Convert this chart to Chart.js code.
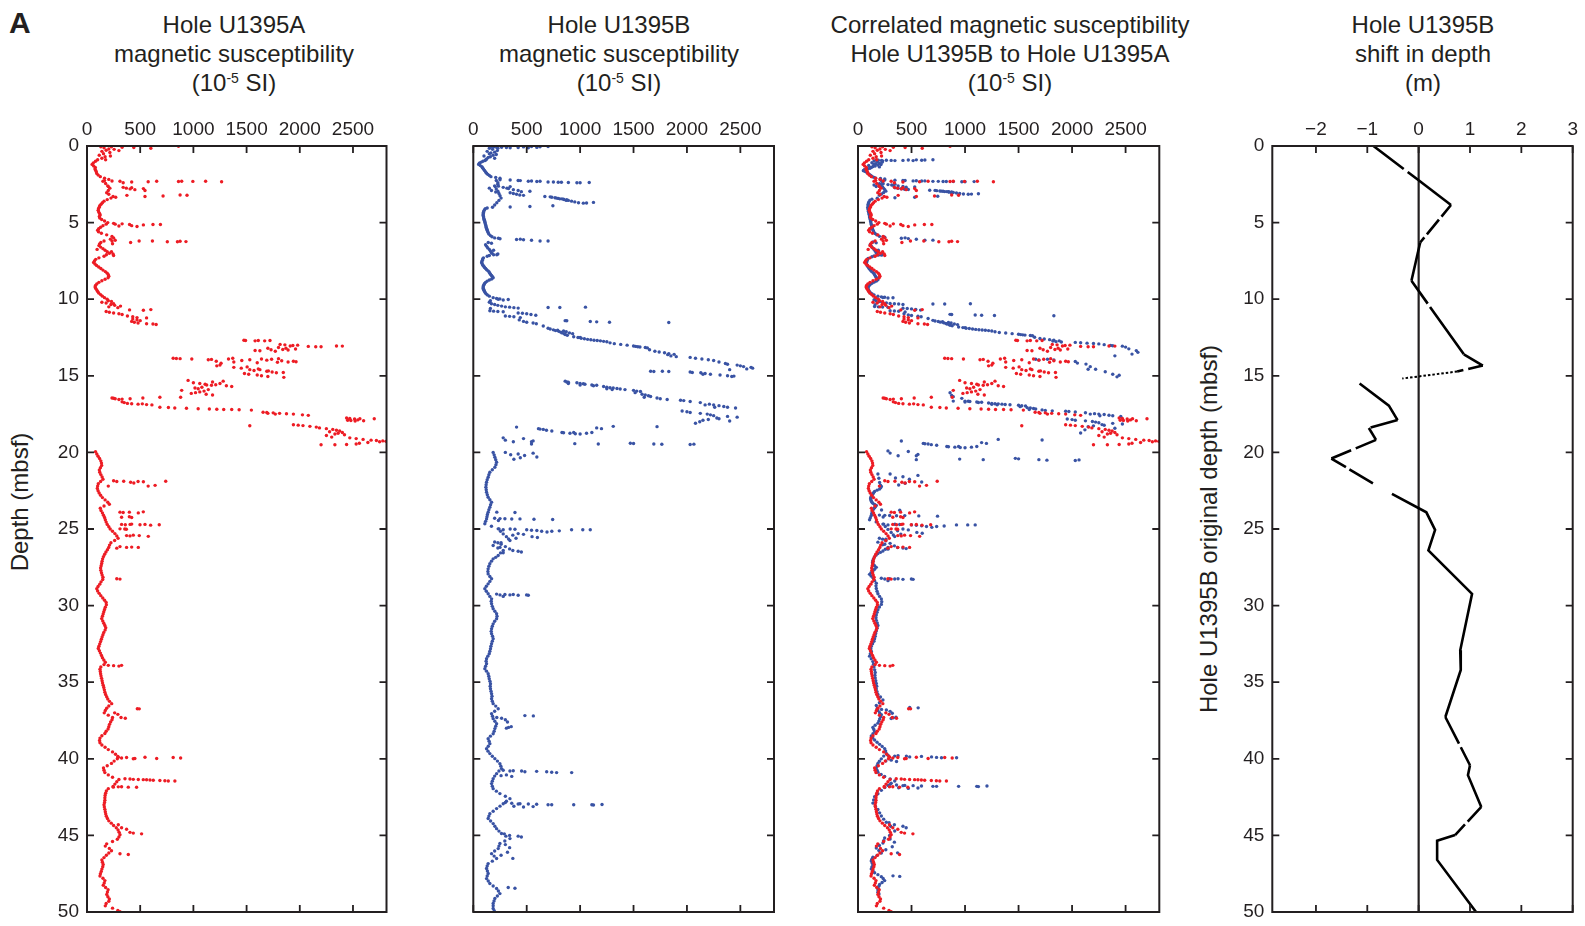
<!DOCTYPE html>
<html>
<head>
<meta charset="utf-8">
<title>Hole U1395 magnetic susceptibility</title>
<script src="https://cdn.jsdelivr.net/npm/chart.js@4.4.1/dist/chart.umd.min.js"></script>
<style>
  body { margin: 0; width: 1585px; height: 926px; position: relative; overflow: hidden; background: #fff;
         font-family: "Liberation Sans", Arial, sans-serif; color: #231f20; }
  canvas { position: absolute; left: 0; top: 0; }
  .letter { position: absolute; left: 9px; top: 8px; font-size: 30px; line-height: 30px; font-weight: bold; }
  .head { position: absolute; top: 9.5px; font-size: 24px; line-height: 29px; text-align: center; white-space: nowrap; transform: translateX(-50%); }
  .head sup { font-size: 14px; line-height: 0; vertical-align: 0; position: relative; top: -8px; }
  .ytitle { position: absolute; font-size: 24px; line-height: 24px; white-space: nowrap; transform: translate(-50%, -50%) rotate(-90deg); }
</style>
</head>
<body>
<div class="letter">A</div>
<div class="head" style="left:234px">Hole U1395A<br>magnetic susceptibility<br>(10<sup>-5</sup> SI)</div>
<div class="head" style="left:619px">Hole U1395B<br>magnetic susceptibility<br>(10<sup>-5</sup> SI)</div>
<div class="head" style="left:1010px">Correlated magnetic susceptibility<br>Hole U1395B to Hole U1395A<br>(10<sup>-5</sup> SI)</div>
<div class="head" style="left:1423px">Hole U1395B<br>shift in depth<br>(m)</div>
<div class="ytitle" style="left:20px;top:502px">Depth (mbsf)</div>
<div class="ytitle" style="left:1209px;top:529px">Hole U1395B original depth (mbsf)</div>
<script>
// [depth (mbsf), susceptibility (10^-5 SI)]
const holeAUpper = [
  [0.02,860],[0.05,130],[0.05,230],[0.08,330],[0.1,440],[0.12,160],[0.15,600],[0.2,205],[0.22,255],[0.28,180],[0.3,300],[0.35,140],[0.42,215],[0.5,155],[0.6,115],[0.65,220],[0.7,170],[0.8,140],[0.9,100],[0.9,175],[1.0,80],[1.1,60],[1.2,48],[1.3,62],[1.4,78],[1.5,75],[1.6,82],[1.7,88],[1.8,92],[1.9,105],[2.0,125],[2.1,165],[2.18,205],
  [2.26,165],[2.28,235],[2.3,310],[2.33,575],[2.3,655],[2.32,860],[2.3,890],[2.31,995],[2.3,1115],[2.33,1265],[2.35,420],[2.4,340],
  [2.3,150],[2.45,175],[2.6,195],[2.65,200],[2.7,340],[2.72,420],[2.75,215],[2.75,370],[2.78,530],[2.8,405],[2.85,450],[2.9,200],[2.9,545],[3.05,185],[3.15,205],[3.2,875],[3.21,940],[3.22,375],[3.26,715],[3.3,245],[3.3,545],[3.35,270],[3.4,225],[3.5,190],[3.6,160],[3.7,145],[3.8,132],[3.9,120],[4.0,115],[4.1,108],[4.2,105],[4.3,110],[4.4,118],[4.5,124],[4.6,116],[4.7,120],[4.8,138],[4.9,165],[5.0,195],
  [5.05,250],[5.08,330],[5.1,265],[5.12,400],[5.12,620],[5.12,690],[5.15,530],[5.2,420],[5.22,300],[5.25,470],
  [5.1,180],[5.2,150],[5.3,128],[5.4,110],[5.5,100],[5.6,108],[5.7,135],[5.8,185],[5.9,235],[6.0,250],[6.08,220],
  [6.15,265],[6.2,235],[6.2,490],[6.2,615],[6.22,875],[6.24,930],[6.25,755],[6.25,850],[6.3,410],[6.38,240],
  [6.2,160],[6.3,130],[6.4,118],[6.5,112],[6.6,128],[6.7,150],[6.75,95],[6.8,170],[6.9,190],[6.9,230],[7.0,210],[7.05,245],[7.1,182],[7.15,250],[7.2,160],[7.3,112],[7.4,82],[7.5,70],[7.6,62],[7.7,75],[7.8,90],[7.9,110],[8.0,130],[8.1,150],[8.2,172],[8.3,190],[8.4,200],[8.5,205],[8.6,198],[8.7,170],[8.8,140],[8.9,112],[9.0,92],[9.1,80],[9.2,76],[9.3,82],[9.4,92],[9.5,100],[9.6,110],[9.7,128],[9.8,145],[9.9,165],[10.0,190],
  [10.1,200],[10.15,230],[10.2,140],[10.25,180],[10.3,250],[10.35,225],[10.4,260],[10.45,315],[10.5,205],[10.55,290],[10.7,400],[10.72,530],[10.68,600],[10.8,180],[10.85,210],[10.9,250],[10.95,300],[11.0,330],[11.1,380],[11.15,430],[11.2,470],[11.22,560],[11.3,430],[11.35,470],[11.4,500],[11.45,420],[11.5,445],[11.55,480],[11.6,560],[11.62,620],[11.65,650]
];

const holeAPeak = [
  [12.68,1475],[12.7,1490],[12.72,1580],[12.7,1610],[12.72,1670],[12.7,1720],
  [12.95,1815],[12.98,1860],[13.0,1980],[13.05,1910],[13.02,1935],[13.08,2080],[13.1,2150],[13.1,2200],[13.05,2345],[13.06,2400],
  [13.15,1800],[13.2,1870],[13.25,1960],[13.3,1730],[13.35,1580],[13.36,1625],[13.28,1840],[13.32,1890],[13.2,1700],[13.4,1770],
  [13.85,810],[13.87,840],[13.88,875],[13.9,985],[13.95,1140],[13.93,1170],[14.05,1215],[13.9,1330],[13.85,1370],[14.0,1455],
  [13.95,1530],[13.9,1640],[13.98,1690],[13.92,1735],[13.88,1800],[14.02,1830],[14.1,1890],[14.05,1940],[14.08,1965],[14.12,1790],[14.15,1600],[14.1,1380],[14.18,1260],
  [14.3,1250],[14.35,1220],[14.45,1380],[14.5,1450],[14.42,1505],[14.6,1530],[14.55,1610],[14.6,1625],[14.7,1690],[14.68,1705],[14.75,1740],[14.8,1780],[14.78,1845],[14.65,1570],[14.9,1520],[14.95,1600],[15.0,1640],[14.85,1480],[15.05,1700],[15.1,1850],
  [15.3,950],[15.45,1000],[15.5,1060],[15.55,1110],[15.6,1125],[15.62,1170],[15.58,1210],[15.5,1250],[15.65,1310],[15.7,1360],[15.8,1015],[15.85,1045],[15.95,890],[15.75,1080],[15.9,1140],[16.0,1100],[16.05,1060],[16.1,1020],[16.15,980],[16.2,1120],[16.25,1180],[15.4,1180],[15.35,1280],
  [16.45,235],[16.47,250],[16.5,265],[16.55,300],[16.52,330],[16.5,405],[16.45,525],[16.4,685],[16.4,880],[16.7,330],[16.75,350],[16.8,380],[16.82,420],[16.85,480],[16.83,520],[16.88,560],[16.9,610],
  [17.05,685],[17.07,765],[17.1,825],[17.12,935],[17.15,1045],[17.17,1150],[17.18,1220],[17.2,1285],[17.2,1360],[17.22,1430],[17.24,1545],
  [17.38,1655],[17.4,1690],[17.42,1750],[17.45,1810],[17.48,1875],[17.5,1940],[17.55,2025],[17.58,2080],[17.45,1700],[17.5,1770],[18.26,1530],
  [17.75,2440],[17.78,2470],[17.82,2515],[17.8,2565],[17.8,2700],[17.9,2450],[17.92,2480],[17.95,2520],[17.93,2600],[17.88,2545],
  [18.2,1940],[18.22,1985],[18.25,2030],[18.3,2095],[18.35,2155],[18.4,2185],[18.45,2250],[18.5,2310],[18.55,2345],[18.6,2375],[18.7,2400],[18.75,2360],[18.8,2330],[18.65,2280],[18.9,2250],[19.0,2300],
  [19.1,2530],[19.15,2595],[19.2,2670],[19.22,2720],[19.25,2780],[19.28,2810],[19.3,2750],[19.35,2640],[19.5,2200],[19.5,2330],[19.48,2440],[19.45,2530],[19.4,2560],[19.05,2470],[18.85,2420]
];

const holeALower = [
  [19.95,80],[20.1,92],[20.25,104],[20.4,118],[20.55,130],[20.7,136],[20.85,138],[21.0,126],[21.15,116],[21.3,120],[21.45,130],[21.6,142],[21.75,150],[21.9,128],[22.05,106],[22.2,100],[22.35,97],[22.5,104],[22.65,114],[22.8,128],[22.95,145],[23.1,170],[23.25,195],[23.38,210],[23.5,160],[23.65,125],[23.8,132],[23.95,145],[24.1,155],[24.25,165],[24.4,172],[24.55,180],[24.7,190],[24.85,205],[25.0,218],[25.15,240],[25.3,262],[25.45,280],[25.6,292],[25.75,260],[25.9,225],[26.05,212],[26.2,204],[26.35,192],[26.5,178],[26.65,166],[26.8,155],[26.95,147],[27.1,142],[27.25,138],[27.4,133],[27.55,128],[27.7,130],[27.85,136],[28.0,142],[28.15,150],[28.3,148],[28.45,132],[28.6,120],[28.75,104],[28.9,92],[29.05,100],[29.2,114],[29.35,130],[29.5,148],[29.65,165],[29.8,180],[29.95,182],
  [30.1,172],[30.25,165],[30.4,158],[30.55,152],[30.7,145],[30.85,138],[31.0,148],[31.15,158],[31.3,168],[31.45,176],[31.6,170],[31.75,158],[31.9,150],[32.05,142],[32.2,135],[32.35,128],[32.5,120],[32.65,112],[32.8,106],[32.95,116],[33.1,126],[33.25,136],[33.4,145],[33.55,158],[33.7,172],[33.85,160],[34.0,130],[34.15,122],[34.3,125],[34.45,128],[34.6,132],[34.75,137],[34.9,142],[35.05,146],[35.2,152],[35.35,158],[35.5,163],[35.65,168],[35.8,175],[35.95,185],[36.1,195],[36.25,212],[36.4,232],[36.55,205],[36.7,185],[36.85,172],[37.0,162],[37.15,200],[37.3,240],[37.45,235],[37.6,222],[37.75,212],[37.9,205],[38.05,198],[38.2,180],[38.35,168],[38.5,140],[38.65,122],[38.8,118],[38.95,122],[39.1,140],[39.25,170],[39.4,200],[39.55,240],[39.7,268],[39.85,290],
  [40.0,285],[40.15,255],[40.3,230],[40.45,190],[40.6,155],[40.75,160],[40.9,168],[41.05,200],[41.2,240],[41.35,300],[41.5,280],[41.65,262],[41.8,245],[41.95,200],[42.1,182],[42.25,175],[42.4,170],[42.55,168],[42.7,168],[42.85,165],[43.0,160],[43.15,163],[43.3,168],[43.45,172],[43.6,176],[43.75,182],[43.9,192],[44.05,205],[44.2,228],[44.35,250],[44.5,275],[44.65,292],[44.8,302],[44.95,310],[45.1,300],[45.25,285],[45.4,240],[45.55,185],[45.7,172],[45.85,210],[46.0,230],[46.15,205],[46.3,182],[46.45,160],[46.6,140],[46.75,145],[46.9,152],[47.05,148],[47.2,140],[47.35,134],[47.5,126],[47.65,122],[47.8,150],[47.95,168],[48.1,162],[48.25,153],[48.4,175],[48.55,198],[48.7,192],[48.85,186],[49.0,196],[49.15,210],[49.3,205],[49.45,180],[49.6,172],[49.75,240],[49.9,290],[49.98,310],
  [21.85,250],[21.9,280],[21.88,345],[21.95,410],[22.0,440],[21.9,480],[21.92,530],[22.2,575],[22.15,640],[21.88,740],[22.2,200],
  [23.9,310],[23.92,340],[23.9,398],[23.95,482],[23.88,529],[24.23,325],[24.2,398],[24.25,420],[24.7,325],[24.72,360],[24.7,405],[24.68,420],[24.72,498],[24.7,545],[24.75,598],[24.72,679],[24.99,310],[25.0,355],[25.02,370],[25.43,372],[25.45,404],[25.4,435],[25.43,491],[25.48,576],[26.15,310],[26.2,372],[26.18,420],[26.2,482],[26.25,280],
  [28.25,280],[28.27,310],
  [33.9,200],[33.92,250],[33.95,300],[33.9,325],
  [36.73,473],[36.74,491],[37.0,260],[37.1,290],[37.3,320],[37.35,360],
  [39.9,294],[39.95,325],[39.92,372],[40.0,435],[39.98,450],[39.9,545],[39.98,655],[39.92,810],[39.95,880],
  [41.3,357],[41.32,404],[41.34,435],[41.35,482],[41.36,529],[41.37,560],[41.38,592],[41.4,623],[41.42,685],[41.43,732],[41.45,764],[41.45,826],
  [41.85,247],[41.83,294],[41.82,325],[41.85,388],[41.86,466],
  [44.3,294],[44.5,325],[44.6,372],[44.8,404],[44.85,435],[44.9,513],
  [46.2,310],[46.25,388]
];

const holeBUpper = [
  [0.03,700],[0.04,545],[0.05,170],[0.05,625],[0.06,470],[0.07,190],[0.08,265],[0.09,595],[0.1,220],[0.1,310],[0.1,420],[0.12,345],[0.12,515],[0.15,230],
  [0.15,150],[0.22,180],[0.3,225],[0.35,130],[0.4,200],[0.45,165],[0.5,150],[0.55,215],[0.6,185],[0.65,100],[0.7,160],[0.75,140],[0.8,200],[0.85,125],[0.9,118],[0.95,110],[1.0,90],[1.05,75],[1.1,60],[1.15,55],[1.2,50],[1.28,65],[1.35,80],[1.42,86],[1.5,95],[1.6,105],[1.7,115],[1.78,125],[1.85,135],[1.92,150],[2.0,165],[2.05,210],[2.1,250],
  [2.2,250],[2.22,345],[2.25,420],[2.26,440],[2.28,545],[2.3,515],[2.3,625],[2.32,595],[2.35,700],[2.35,750],[2.37,795],[2.37,825],[2.38,890],[2.38,1085],[2.4,970],[2.4,1000],
  [2.25,215],[2.4,230],[2.5,230],[2.6,200],[2.62,235],[2.65,205],[2.65,345],[2.7,280],[2.75,150],[2.75,315],[2.78,330],[2.8,215],[2.85,375],[2.9,170],[2.9,420],[2.95,230],[2.95,530],[2.98,450],[3.0,210],[3.05,345],[3.1,240],[3.1,375],[3.15,405],[3.2,435],[3.22,470],[3.25,250],[3.4,260],
  [3.3,670],[3.32,720],[3.35,735],[3.38,765],[3.4,780],[3.42,795],[3.45,810],[3.45,830],[3.47,845],[3.5,850],[3.5,875],[3.55,870],[3.55,890],[3.6,920],[3.65,950],[3.68,1125],[3.7,985],[3.72,1060],[3.73,1030],[3.9,745],[3.95,530],[3.98,345],
  [3.55,240],[3.7,220],[3.85,200],[4.0,180],[4.05,130],[4.1,112],[4.18,104],[4.25,98],[4.32,95],[4.4,94],[4.48,92],[4.55,93],[4.62,96],[4.7,97],[4.78,101],[4.85,104],[4.93,107],[5.0,110],[5.08,112],[5.15,116],[5.22,118],[5.3,121],[5.38,124],[5.45,128],[5.52,131],[5.6,135],[5.68,141],[5.75,146],[5.85,160],[5.92,175],
  [6.0,200],[6.02,235],[6.05,250],[6.08,440],[6.1,405],[6.12,470],[6.15,545],[6.2,625],[6.2,700],[6.3,140],[6.35,170],
  [6.45,115],[6.55,125],[6.65,135],[6.75,150],[6.8,190],[6.85,160],[6.95,170],[7.0,175],[7.05,230],[7.1,190],[7.1,220],[7.15,150],[7.2,130],[7.3,95],[7.38,88],[7.45,85],[7.55,80],[7.62,78],[7.7,84],[7.78,90],[7.85,98],[7.93,105],[8.0,115],[8.08,125],[8.15,138],[8.22,148],[8.3,155],[8.38,162],[8.45,170],[8.52,178],[8.6,186],[8.68,172],[8.75,150],[8.82,130],[8.9,115],[8.98,106],[9.05,100],[9.12,95],[9.2,92],[9.28,93],[9.35,96],[9.42,100],[9.5,105],[9.58,112],[9.65,120],[9.72,132],[9.8,150],
  [9.9,186],[9.95,218],[10.0,233],[9.98,249],[10.05,280],[10.02,327],[10.1,160],[10.2,150],[10.3,170],[10.35,200],[10.4,230],[10.45,265],[10.5,300],[10.52,340],[10.55,380],[10.58,420],[10.54,700],[10.54,810],[10.52,1050],[10.6,160],[10.75,155],[10.78,190],[10.8,230],[10.82,280],[10.9,420],[10.92,460],[10.95,500],[11.0,540],[11.05,585],[11.1,300],[11.12,340],[11.15,380],[11.2,440],[11.35,430],[11.4,860],[11.41,875],[11.45,470],[11.46,1095],[11.48,1155],[11.5,500],[11.5,1275],[11.52,1830],[11.55,560],[11.6,590],[11.75,655]
];

const holeBPeak = [
  [11.9,700],[11.95,720],[12.0,750],[12.02,790],[12.05,770],[12.08,845],[12.1,800],[12.12,870],[12.15,820],[12.2,830],[12.2,900],[12.25,850],[12.25,930],[12.3,860],[12.35,880],
  [12.45,940],[12.5,980],[12.5,1000],[12.55,1010],[12.58,1040],[12.62,1070],[12.65,1100],[12.68,1130],[12.7,1160],[12.72,1190],[12.75,1220],[12.78,1250],
  [12.85,1280],[12.9,1320],[12.95,1380],[13.0,1440],[13.05,1500],[13.08,1520],[13.1,1540],[13.12,1560],[13.15,1610],[13.18,1630],
  [13.3,1650],[13.4,1700],[13.45,1740],[13.5,1790],[13.55,1830],[13.6,1880],[13.62,1820],[13.7,1850],[13.75,1900],[13.8,2030],[13.85,2080],[13.9,2140],[13.95,2200],[14.0,2250],
  [14.1,2300],[14.2,2360],[14.25,2380],[14.3,2470],[14.35,2500],[14.4,2530],[14.45,2600],[14.5,2615],[14.55,2560],[14.6,2400],
  [14.7,1660],[14.72,1690],[14.7,1770],[14.72,1830],[14.75,2030],[14.78,2050],[14.8,2130],[14.85,2170],[14.9,2150],[14.9,2220],[14.95,2310],[15.0,2380],[15.02,2440],[15.05,2420],
  [15.35,860],[15.4,875],[15.42,890],[15.45,970],[15.5,890],[15.5,1000],[15.52,1030],[15.55,1045],[15.6,1000],[15.6,1110],[15.62,1155],[15.65,1125],[15.7,1220],[15.75,1250],[15.78,1280],[15.8,1310],[15.83,1345],[15.85,1250],[15.86,1375],[15.9,1300],[15.9,1420],[15.95,1500],[16.0,1530],[16.02,1565],
  [16.1,1515],[16.2,1580],[16.25,1610],[16.3,1640],[16.35,1660],[16.4,1600],[16.45,1720],[16.5,1750],[16.55,1815],[16.6,1940],[16.62,1970],[16.68,2030],[16.75,2125],[16.85,2210],[16.9,2170],[16.9,2250],[16.95,2300],[17.0,2345],[17.05,2260],[17.05,2380],[17.1,2455],
  [17.3,1955],[17.35,2000],[17.4,2030],[17.45,2125],[17.5,2190],[17.55,2220],[17.6,2250],[17.65,2380],[17.7,2470],[17.75,2280],[17.8,2300],[17.85,2200],[17.9,2150],[17.95,2400],[18.0,2120],[18.1,2080],
  [18.35,405],[18.45,610],[18.48,625],[18.5,655],[18.55,685],[18.6,735],[18.7,830],[18.72,845],[18.75,905],[18.7,940],[18.78,955],[18.8,1000],[18.75,1060],[18.7,1110],[18.4,1155],[18.45,1200],[18.3,1310],[18.32,1720],
  [19.05,280],[19.1,470],[19.2,300],[19.25,560],[19.3,375],[19.3,545],[19.45,545],[19.43,950],[19.45,1170],[19.4,1470],[19.42,1500],[19.45,1690],[19.47,1765],[19.48,2030],[19.46,2065]
];

const holeBLower = [
  [20.0,186],[20.16,195],[20.32,202],[20.48,210],[20.64,218],[20.8,212],[20.97,202],[21.13,178],[21.3,155],[21.46,146],[21.62,139],[21.78,130],[21.95,124],[22.11,120],[22.27,118],[22.43,121],[22.6,124],[22.76,131],[22.93,139],[23.09,155],[23.25,171],[23.42,162],[23.58,155],[23.74,146],[23.9,139],[24.05,132],[24.2,128],[24.34,124],[24.5,115],[24.66,108],[24.82,170],[24.99,233],[25.15,255],[25.32,280],[25.5,310],[25.65,330],[25.75,343],[25.9,260],[26.08,186],[26.24,230],[26.4,280],[26.56,255],[26.73,233],[26.85,210],[26.95,186],[27.1,170],[27.27,155],[27.43,146],[27.6,139],[27.77,137],[27.93,139],[28.1,155],[28.25,171],[28.42,155],[28.58,139],[28.74,122],[28.9,108],[29.06,122],[29.23,139],[29.4,155],[29.56,171],[29.72,168],[29.88,171],
  [30.05,178],[30.21,186],[30.37,202],[30.53,218],[30.7,222],[30.86,218],[31.02,200],[31.19,186],[31.35,178],[31.51,171],[31.68,168],[31.84,171],[32.0,180],[32.16,186],[32.32,178],[32.49,171],[32.65,165],[32.82,161],[32.98,155],[33.14,149],[33.3,136],[33.47,124],[33.63,120],[33.8,124],[33.96,115],[34.12,108],[34.28,124],[34.45,139],[34.61,145],[34.77,149],[34.94,156],[35.1,161],[35.26,158],[35.43,161],[35.59,166],[35.75,171],[35.92,175],[36.08,171],[36.24,178],[36.4,186],[36.56,210],[36.73,233],[36.9,200],[37.06,171],[37.22,180],[37.38,186],[37.55,202],[37.71,218],[37.87,210],[38.03,202],[38.2,195],[38.36,186],[38.52,160],[38.69,139],[38.85,148],[39.01,155],[39.18,140],[39.34,124],[39.5,138],[39.66,155],[39.83,178],[39.99,202],
  [40.15,226],[40.32,249],[40.48,258],[40.64,264],[40.8,240],[40.97,218],[41.13,200],[41.3,186],[41.46,178],[41.62,171],[41.79,178],[41.95,186],[42.11,216],[42.27,249],[42.44,300],[42.6,343],[42.77,310],[42.93,280],[43.09,250],[43.25,218],[43.42,186],[43.58,155],[43.74,146],[43.9,139],[44.06,162],[44.23,186],[44.4,202],[44.56,218],[44.72,240],[44.88,264],[45.05,305],[45.21,343],[45.37,295],[45.53,249],[45.7,240],[45.86,233],[46.02,200],[46.19,171],[46.35,195],[46.51,218],[46.68,178],[46.84,139],[47.0,130],[47.16,124],[47.32,132],[47.49,139],[47.65,130],[47.82,124],[47.98,140],[48.14,155],[48.3,186],[48.47,218],[48.63,235],[48.8,249],[48.96,225],[49.12,202],[49.28,194],[49.45,186],[49.6,186],[49.77,186],[49.92,196],
  [20.0,300],[20.1,420],[20.2,480],[20.05,560],[20.3,595],[20.15,350],[20.35,440],[20.45,380],
  [23.9,220],[23.92,390],[24.3,200],[24.32,250],[24.33,296],[24.35,360],[24.34,437],[24.36,568],[24.38,743],[24.45,235],
  [24.99,240],[25.05,280],[25.0,345],[25.02,390],[25.05,500],[25.08,545],[25.1,595],[25.15,640],[25.2,690],[25.15,735],[25.12,805],[25.05,920],[25.05,1025],[25.05,1095],[25.3,420],[25.35,470],[25.5,550],[25.55,600],[25.4,370],[25.6,400],
  [25.85,200],[25.9,230],[26.0,260],[26.15,300],[26.3,340],[26.4,370],[26.45,420],[26.5,450],[26.2,250],[26.55,280],
  [29.25,218],[29.3,250],[29.28,296],[29.3,343],[29.28,374],[29.32,420],[29.3,499],[29.32,515],[29.4,280],
  [37.18,483],[37.2,562],[37.3,220],[37.35,265],[37.45,300],[37.6,320],[37.9,355],[37.95,330],[38.0,310],
  [40.75,280],[40.8,343],[40.78,374],[40.8,452],[40.85,483],[40.82,593],[40.85,687],[40.88,734],[40.9,780],[40.9,921],[41.05,310],[41.1,260],[41.15,360],
  [42.85,300],[42.9,360],[42.95,420],[42.93,437],[42.95,515],[42.97,593],[43.0,700],[43.0,734],[43.0,940],[43.0,1110],[43.02,1125],[42.98,1205],[43.12,560],[43.15,470],[43.1,380],
  [44.9,290],[45.0,340],[45.05,420],[45.1,450],
  [45.6,300],[45.8,340],[46.1,320],[46.5,370],[46.3,260],
  [48.4,327],[48.45,390]
];

// Hole U1395B depth shift, [original depth (mbsf), shift (m)], in three traced pieces
const shiftUpper = [[0,-0.88],[2.24,0],[3.85,0.63],[6.3,0.03],[8.8,-0.14],[13.6,0.88],[14.33,1.25],[14.72,0.75],[15.18,-0.32]];
const shiftMiddle = [[15.5,-1.15],[16.95,-0.58],[17.89,-0.41],[18.41,-0.97],[19.18,-0.83],[20.4,-1.7],[22.02,-0.89]];
const shiftLower = [[22.71,-0.52],[23.91,0.15],[25.06,0.32],[26.4,0.19],[29.23,1.04],[32.92,0.81],[34.2,0.82],[37.27,0.52],[40.42,1.0],[41.07,0.96],[43.14,1.22],[44.98,0.71],[45.35,0.36],[46.6,0.36],[50.1,1.14]];

// tick positions
const suscTicks = [0, 500, 1000, 1500, 2000, 2500];
const shiftTicks = [-2, -1, 0, 1, 2, 3];
const depthTicks = [0, 5, 10, 15, 20, 25, 30, 35, 40, 45, 50];

// dash pattern for each segment of the shift trace
const dotted = [2.5, 2];
const upperDash = [[38, 5], [], [15, 4, 19, 4], [], [28, 4, 200, 0], [], [15, 5], dotted];
const middleDash = [[], [], [28, 5], [], [22, 5], [17, 4, 80, 0]];
const lowerDash = [[], [], [], [], [], [], [], [30, 4, 200, 0], [], [], [20, 4, 200, 0], [], [], []];

const holeA = [...holeAUpper, ...holeAPeak, ...holeALower];
const holeB = [...holeBUpper, ...holeBPeak, ...holeBLower];
const shiftPoints = [...shiftUpper, ...shiftMiddle, ...shiftLower];

function shiftAt(depth) {
  for (let i = 1; i < shiftPoints.length; i++) {
    const [d0, s0] = shiftPoints[i - 1];
    const [d1, s1] = shiftPoints[i];
    if (depth <= d1) return s0 + (s1 - s0) * (depth - d0) / (d1 - d0);
  }
  return shiftPoints[shiftPoints.length - 1][1];
}

const ink = '#231f20';
const red = '#ed1c24';
const blue = '#3953a4';
const pageW = 1585, pageH = 926;
const plotTop = 146, plotBottom = 912;
const tickFont = { family: '"Liberation Sans", Arial, sans-serif', size: 19 };

// frame with tick marks pointing inward on all four sides
const frameTicks = {
  id: 'frameTicks',
  afterDatasetsDraw(chart) {
    const { ctx, chartArea: a, scales: { x, y } } = chart;
    const len = 7;
    ctx.save();
    ctx.strokeStyle = ink;
    ctx.lineWidth = 1.8;
    ctx.beginPath();
    x.ticks.forEach(t => {
      const px = x.getPixelForValue(t.value);
      ctx.moveTo(px, a.top); ctx.lineTo(px, a.top + len);
      ctx.moveTo(px, a.bottom); ctx.lineTo(px, a.bottom - len);
    });
    y.ticks.forEach(t => {
      const py = y.getPixelForValue(t.value);
      ctx.moveTo(a.left, py); ctx.lineTo(a.left + len, py);
      ctx.moveTo(a.right, py); ctx.lineTo(a.right - len, py);
    });
    ctx.stroke();
    ctx.lineWidth = 2;
    ctx.strokeRect(a.left, a.top, a.right - a.left, a.bottom - a.top);
    ctx.restore();
  }
};

// keep the plot box fixed: no extra room for labels hanging past the ends
const noOverhang = s => {
  s.paddingTop = 0; s.paddingBottom = 0; s.paddingLeft = 0; s.paddingRight = 0;
};

const dots = (points, colour) => ({
  data: points,
  backgroundColor: colour,
  borderWidth: 0,
  pointRadius: 1.7,
  pointHoverRadius: 1.7
});

const shiftTrace = (rows, dashes) => ({
  data: rows.map(([d, s]) => ({ x: s, y: d })),
  showLine: true,
  borderColor: '#000',
  borderWidth: 2.6,
  borderCapStyle: 'butt',
  pointRadius: 0,
  segment: {
    borderDash: c => dashes[c.p0DataIndex],
    borderWidth: c => dashes[c.p0DataIndex] === dotted ? 2 : 2.6
  }
});

function buildPanel(left, right, xRange, showDepth, datasets) {
  const canvas = document.createElement('canvas');
  canvas.width = pageW;
  canvas.height = pageH;
  document.body.appendChild(canvas);
  const axisW = showDepth ? 40 : 0;
  const axisH = 30;
  return new Chart(canvas, {
    type: 'scatter',
    data: { datasets },
    options: {
      responsive: false,
      animation: false,
      events: [],
      layout: { padding: { left: left - axisW, right: pageW - right, top: plotTop - axisH, bottom: pageH - plotBottom } },
      plugins: { legend: { display: false }, tooltip: { enabled: false } },
      scales: {
        x: {
          type: 'linear', position: 'top', min: xRange.min, max: xRange.max,
          afterBuildTicks: s => { s.ticks = xRange.ticks.map(v => ({ value: v })); },
          afterFit: s => { s.height = axisH; noOverhang(s); },
          grid: { display: false, drawTicks: false }, border: { display: false },
          ticks: { autoSkip: false, maxRotation: 0, padding: 5, color: ink, font: tickFont, callback: xRange.label }
        },
        y: {
          type: 'linear', reverse: true, min: 0, max: 50,
          afterBuildTicks: s => { s.ticks = depthTicks.map(v => ({ value: v })); },
          afterFit: s => { s.width = axisW; noOverhang(s); },
          grid: { display: false, drawTicks: false }, border: { display: false },
          ticks: { autoSkip: false, display: showDepth, padding: 8, color: ink, font: tickFont, callback: v => String(v) }
        }
      }
    },
    plugins: [frameTicks]
  });
}

const suscAxis = { min: 0, max: 2815, ticks: suscTicks, label: v => String(v) };
const shiftAxis = { min: -2.85, max: 3, ticks: shiftTicks, label: v => (v < 0 ? '\u2212' + Math.abs(v) : String(v)) };

const toPoint = ([d, v]) => ({ x: v, y: d });

buildPanel(87, 386.5, suscAxis, true, [dots(holeA.map(toPoint), red)]);
buildPanel(473.3, 774, suscAxis, false, [dots(holeB.map(toPoint), blue)]);
buildPanel(858, 1159.3, suscAxis, false, [
  dots(holeA.map(toPoint), red),
  dots(holeB.map(([d, v]) => ({ x: v, y: d - shiftAt(d) })), blue)
]);
buildPanel(1272.3, 1572.7, shiftAxis, true, [
  shiftTrace(shiftUpper, upperDash),
  shiftTrace(shiftMiddle, middleDash),
  shiftTrace(shiftLower, lowerDash),
  { data: [{ x: 0, y: 0 }, { x: 0, y: 50 }], showLine: true, borderColor: ink, borderWidth: 2.2, pointRadius: 0 }
]);
</script>
</body>
</html>
